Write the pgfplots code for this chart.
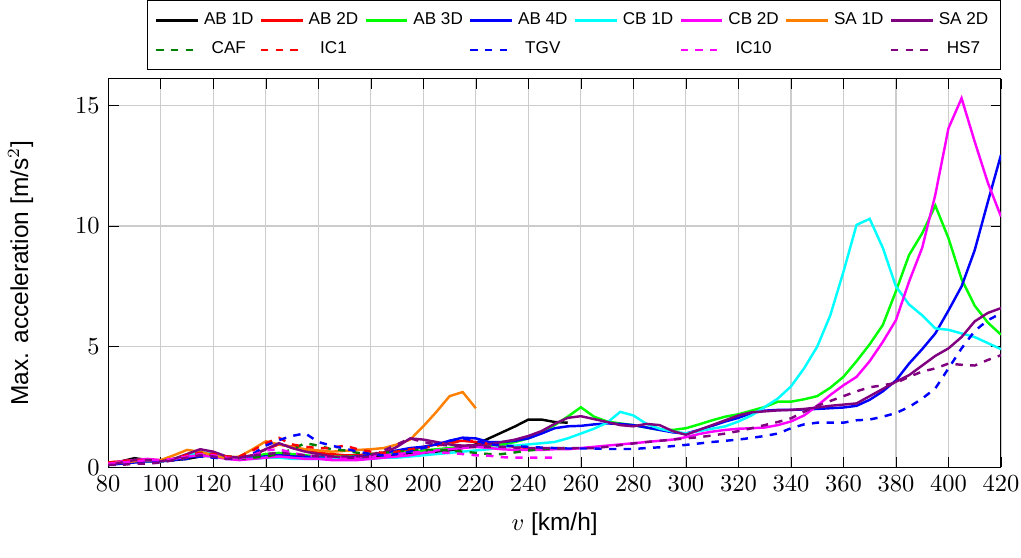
\documentclass[border=0pt]{standalone}
\usepackage{pgfplots}
\pgfplotsset{compat=1.18}
\usepackage{fontspec}
\setmainfont{Liberation Sans}
\definecolor{dkgreen}{rgb}{0,0.5,0}
\definecolor{mygreen}{rgb}{0,1,0}
\definecolor{mycyan}{rgb}{0,1,1}
\definecolor{mymagenta}{rgb}{1,0,1}
\definecolor{myorange}{rgb}{1,0.5,0}
\definecolor{mypurple}{rgb}{0.5,0,0.5}
\begin{document}
\begin{tikzpicture}
\begin{axis}[
  scale only axis,
  width=365pt, height=158.8pt,
  xmin=80, xmax=420, ymin=0, ymax=16.1,
  xtick={80,100,...,420},
  ytick={0,5,10,15},
  grid=major,
  grid style={gray!40, line width=0.5pt},
  axis line style={black},
  tick style={black},
  xlabel={$v$ [km/h]},
  ylabel={Max. acceleration [m/s$^2$]},
  ylabel shift=10.3pt,
  xticklabel style={inner xsep=0.7pt},
  xlabel style={inner ysep=9.1pt, yshift=4pt},
  every axis plot/.append style={line width=1pt},
  legend columns=8,
  legend cell align=center,
  legend style={at={(1,1.022)}, anchor=south east, font=\fontsize{7}{8}\selectfont,
    /tikz/every even column/.append style={column sep=0.5pt},
    row sep=1.6pt, inner sep=3pt},
]
% AB 1D
\addplot[black] coordinates {(80,0.15)(85,0.25)(90,0.38)(95,0.3)(100,0.25)(105,0.3)(110,0.35)(115,0.45)(120,0.5)(125,0.4)(130,0.35)(135,0.4)(140,0.5)(145,0.55)(150,0.5)(155,0.45)(160,0.4)(165,0.35)(170,0.35)(175,0.4)(180,0.4)(185,0.45)(190,0.5)(195,0.55)(200,0.6)(205,0.65)(210,0.7)(215,0.8)(220,0.95)(225,1.2)(230,1.45)(235,1.7)(240,1.98)(245,1.98)(250,1.88)(255,1.85)};
\addlegendentry{AB 1D}
% AB 2D
\addplot[red] coordinates {(80,0.2)(85,0.25)(90,0.3)(95,0.3)(100,0.25)(105,0.35)(110,0.5)(115,0.6)(120,0.55)(125,0.45)(130,0.4)(135,0.5)(140,0.75)(145,0.95)(150,0.85)(155,0.7)(160,0.6)(165,0.55)(170,0.5)(175,0.5)(180,0.55)(185,0.6)(190,0.65)(195,0.75)(200,0.85)(205,0.95)(210,1.05)(215,1.1)(220,1.05)(225,0.95)(230,0.9)(235,0.85)(240,0.8)(245,0.75)};
\addlegendentry{AB 2D}
% AB 3D
\addplot[mygreen] coordinates {(80,0.15)(85,0.2)(90,0.25)(95,0.25)(100,0.25)(105,0.35)(110,0.5)(115,0.6)(120,0.55)(125,0.45)(130,0.4)(135,0.45)(140,0.55)(145,0.6)(150,0.55)(155,0.5)(160,0.45)(165,0.45)(170,0.45)(175,0.45)(180,0.5)(185,0.55)(190,0.6)(195,0.65)(200,0.7)(205,0.75)(210,0.8)(215,0.85)(220,0.85)(225,0.9)(230,0.95)(235,1.05)(240,1.2)(245,1.45)(250,1.75)(255,2.1)(260,2.49)(265,2.1)(270,1.9)(275,1.82)(280,1.75)(285,1.65)(290,1.55)(295,1.55)(300,1.62)(305,1.78)(310,1.95)(315,2.1)(320,2.2)(325,2.35)(330,2.5)(335,2.72)(340,2.72)(345,2.82)(350,2.95)(355,3.3)(360,3.75)(365,4.4)(370,5.1)(375,5.9)(380,7.3)(385,8.8)(390,9.7)(395,10.85)(400,9.5)(405,7.8)(410,6.7)(415,6.0)(420,5.5)};
\addlegendentry{AB 3D}
% AB 4D
\addplot[blue] coordinates {(80,0.1)(85,0.15)(90,0.2)(95,0.25)(100,0.25)(105,0.3)(110,0.4)(115,0.5)(120,0.45)(125,0.4)(130,0.35)(135,0.4)(140,0.45)(145,0.5)(150,0.45)(155,0.45)(160,0.4)(165,0.4)(170,0.4)(175,0.45)(180,0.5)(185,0.6)(190,0.7)(195,0.8)(200,0.85)(205,0.95)(210,1.1)(215,1.23)(220,1.2)(225,1.05)(230,1.05)(235,1.1)(240,1.2)(245,1.4)(250,1.62)(255,1.7)(260,1.72)(265,1.78)(270,1.82)(275,1.8)(280,1.75)(285,1.65)(290,1.55)(295,1.45)(300,1.4)(305,1.55)(310,1.72)(315,1.9)(320,2.05)(325,2.25)(330,2.35)(335,2.38)(340,2.38)(345,2.4)(350,2.42)(355,2.45)(360,2.48)(365,2.55)(370,2.8)(375,3.15)(380,3.6)(385,4.3)(390,4.9)(395,5.55)(400,6.5)(405,7.5)(410,9.0)(415,11.0)(420,12.95)};
\addlegendentry{AB 4D}
% CB 1D
\addplot[mycyan] coordinates {(80,0.15)(85,0.2)(90,0.3)(95,0.3)(100,0.25)(105,0.35)(110,0.5)(115,0.65)(120,0.55)(125,0.45)(130,0.35)(135,0.35)(140,0.4)(145,0.4)(150,0.35)(155,0.35)(160,0.35)(165,0.35)(170,0.35)(175,0.35)(180,0.35)(185,0.4)(190,0.4)(195,0.45)(200,0.5)(205,0.55)(210,0.6)(215,0.65)(220,0.7)(225,0.75)(230,0.85)(235,0.9)(240,0.95)(245,1.0)(250,1.05)(255,1.2)(260,1.4)(265,1.6)(270,1.85)(275,2.3)(280,2.15)(285,1.8)(290,1.6)(295,1.48)(300,1.41)(305,1.5)(310,1.6)(315,1.7)(320,1.9)(325,2.15)(330,2.5)(335,2.85)(340,3.35)(345,4.1)(350,5.0)(355,6.3)(360,8.1)(365,10.05)(370,10.3)(375,9.1)(380,7.5)(385,6.75)(390,6.3)(395,5.76)(400,5.7)(405,5.55)(410,5.4)(415,5.15)(420,4.9)};
\addlegendentry{CB 1D}
% CB 2D
\addplot[mymagenta] coordinates {(80,0.15)(85,0.25)(90,0.3)(95,0.35)(100,0.3)(105,0.35)(110,0.45)(115,0.5)(120,0.45)(125,0.35)(130,0.3)(135,0.35)(140,0.4)(145,0.45)(150,0.4)(155,0.35)(160,0.35)(165,0.3)(170,0.3)(175,0.3)(180,0.35)(185,0.4)(190,0.45)(195,0.5)(200,0.6)(205,0.7)(210,0.75)(215,0.8)(220,0.85)(225,0.8)(230,0.75)(235,0.72)(240,0.72)(245,0.72)(250,0.75)(255,0.75)(260,0.8)(265,0.85)(270,0.9)(275,0.95)(280,1.0)(285,1.05)(290,1.1)(295,1.15)(300,1.25)(305,1.38)(310,1.48)(315,1.55)(320,1.6)(325,1.62)(330,1.65)(335,1.75)(340,1.9)(345,2.15)(350,2.55)(355,3.0)(360,3.4)(365,3.75)(370,4.4)(375,5.2)(380,6.1)(385,7.7)(390,9.1)(395,11.3)(400,14.05)(405,15.3)(410,13.5)(415,11.8)(420,10.4)};
\addlegendentry{CB 2D}
% SA 1D
\addplot[myorange] coordinates {(80,0.15)(85,0.2)(90,0.25)(95,0.3)(100,0.3)(105,0.5)(110,0.72)(115,0.65)(120,0.5)(125,0.38)(130,0.45)(135,0.75)(140,1.08)(145,0.95)(150,0.85)(155,0.75)(160,0.7)(165,0.65)(170,0.68)(175,0.72)(180,0.75)(185,0.8)(190,0.95)(195,1.15)(200,1.7)(205,2.3)(210,2.95)(215,3.12)(220,2.45)};
\addlegendentry{SA 1D}
% SA 2D
\addplot[mypurple] coordinates {(80,0.1)(85,0.2)(90,0.3)(95,0.3)(100,0.25)(105,0.35)(110,0.55)(115,0.75)(120,0.65)(125,0.45)(130,0.4)(135,0.5)(140,0.75)(145,1.0)(150,0.8)(155,0.65)(160,0.55)(165,0.45)(170,0.4)(175,0.4)(180,0.45)(185,0.6)(190,0.85)(195,1.2)(200,1.15)(205,1.05)(210,0.95)(215,0.9)(220,0.92)(225,0.95)(230,1.05)(235,1.15)(240,1.3)(245,1.5)(250,1.8)(255,2.05)(260,2.12)(265,2.0)(270,1.88)(275,1.75)(280,1.7)(285,1.8)(290,1.75)(295,1.5)(300,1.35)(305,1.55)(310,1.75)(315,1.95)(320,2.15)(325,2.28)(330,2.32)(335,2.36)(340,2.38)(345,2.42)(350,2.48)(355,2.55)(360,2.6)(365,2.65)(370,2.95)(375,3.25)(380,3.55)(385,3.82)(390,4.22)(395,4.62)(400,4.93)(405,5.4)(410,6.05)(415,6.4)(420,6.6)};
\addlegendentry{SA 2D}
% CAF
\addplot[dkgreen, dashed] coordinates {(80,0.1)(85,0.15)(90,0.2)(95,0.25)(100,0.25)(105,0.3)(110,0.45)(115,0.6)(120,0.5)(125,0.4)(130,0.35)(135,0.4)(140,0.45)(145,0.55)(150,0.75)(155,1.0)(160,0.9)(165,0.75)(170,0.7)(175,0.6)(180,0.55)(185,0.6)(190,0.65)(195,0.7)(200,0.7)(205,0.7)(210,0.7)(215,0.65)(220,0.6)(225,0.55)(230,0.55)(235,0.62)(240,0.7)(245,0.75)(250,0.78)(255,0.8)};
\addlegendentry{CAF}
% IC1
\addplot[red, dashed] coordinates {(80,0.2)(85,0.25)(90,0.3)(95,0.3)(100,0.25)(105,0.35)(110,0.5)(115,0.6)(120,0.55)(125,0.45)(130,0.45)(135,0.7)(140,1.0)(145,1.22)(150,0.95)(155,0.85)(160,0.8)(165,0.8)(170,0.9)(175,0.75)(180,0.65)(185,0.6)(190,0.65)(195,0.75)(200,0.8)(205,0.9)(210,1.0)(215,1.1)(220,1.1)(225,0.95)};
\addlegendentry{IC1}
\addlegendimage{empty legend}\addlegendentry{}
% TGV
\addplot[blue, dashed] coordinates {(80,0.1)(85,0.15)(90,0.2)(95,0.2)(100,0.25)(105,0.3)(110,0.35)(115,0.45)(120,0.4)(125,0.35)(130,0.35)(135,0.55)(140,0.9)(145,1.13)(150,1.3)(155,1.41)(160,1.05)(165,0.9)(170,0.78)(175,0.65)(180,0.55)(185,0.5)(190,0.55)(195,0.65)(200,0.8)(205,0.95)(210,1.1)(215,1.2)(220,1.1)(225,0.95)(230,0.9)(235,0.88)(240,0.85)(245,0.82)(250,0.8)(255,0.78)(260,0.78)(265,0.78)(270,0.76)(275,0.76)(280,0.76)(285,0.8)(290,0.83)(295,0.88)(300,0.93)(305,0.99)(310,1.05)(315,1.1)(320,1.15)(325,1.22)(330,1.3)(335,1.4)(340,1.62)(345,1.78)(350,1.85)(355,1.85)(360,1.85)(365,1.95)(370,1.98)(375,2.1)(380,2.25)(385,2.5)(390,2.85)(395,3.27)(400,4.1)(405,4.93)(410,5.65)(415,6.1)(420,6.38)};
\addlegendentry{TGV}
\addlegendimage{empty legend}\addlegendentry{}
% IC10
\addplot[mymagenta, dashed] coordinates {(80,0.15)(85,0.2)(90,0.25)(95,0.3)(100,0.3)(105,0.35)(110,0.45)(115,0.55)(120,0.5)(125,0.4)(130,0.35)(135,0.5)(140,0.7)(145,0.75)(150,0.6)(155,0.5)(160,0.45)(165,0.4)(170,0.4)(175,0.4)(180,0.45)(185,0.5)(190,0.55)(195,0.6)(200,0.65)(205,0.62)(210,0.6)(215,0.55)(220,0.5)(225,0.48)(230,0.42)(235,0.4)(240,0.4)(245,0.4)(250,0.4)};
\addlegendentry{IC10}
\addlegendimage{empty legend}\addlegendentry{}
% HS7
\addplot[mypurple, dashed] coordinates {(80,0.1)(85,0.1)(90,0.15)(95,0.15)(100,0.2)(105,0.3)(110,0.4)(115,0.5)(120,0.45)(125,0.35)(130,0.4)(135,0.5)(140,0.55)(145,0.6)(150,0.55)(155,0.5)(160,0.45)(165,0.45)(170,0.45)(175,0.45)(180,0.5)(185,0.7)(190,0.95)(195,1.2)(200,1.05)(205,0.95)(210,0.9)(215,0.85)(220,0.85)(225,0.85)(230,0.85)(235,0.82)(240,0.8)(245,0.8)(250,0.8)(255,0.8)(260,0.8)(265,0.8)(270,0.85)(275,0.92)(280,0.99)(285,1.05)(290,1.1)(295,1.15)(300,1.2)(305,1.25)(310,1.32)(315,1.4)(320,1.5)(325,1.62)(330,1.75)(335,1.88)(340,2.03)(345,2.3)(350,2.55)(355,2.75)(360,2.95)(365,3.15)(370,3.32)(375,3.4)(380,3.5)(385,3.75)(390,3.97)(395,4.1)(400,4.3)(405,4.25)(410,4.22)(415,4.45)(420,4.65)};
\addlegendentry{HS7}
\end{axis}
\end{tikzpicture}
\end{document}
